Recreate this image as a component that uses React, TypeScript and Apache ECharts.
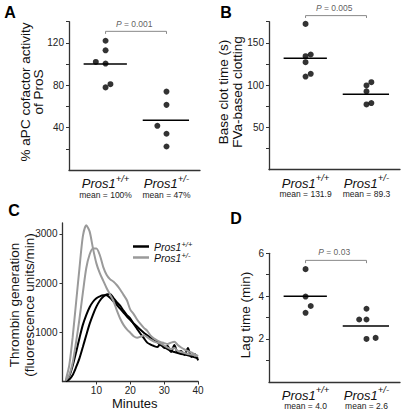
import React, { useEffect, useRef } from "react";
import * as echarts from "echarts";

const FONT = 'Arial, "Liberation Sans", Helvetica, sans-serif';
const GROUP_X = [1, 2];
const GENOTYPES = ["+/+", "+/-"];

// Panel A: % aPC cofactor activity of ProS
const aWtValues = [122, 113, 102, 100.5, 78, 81];
const aWtJitter = [0, 0, -0.16, 0, 0, 0.08];
const aHetValues = [74, 61.5, 41.7, 34.2, 22.2];
const aHetJitter = [0, 0, -0.15, 0, 0];
const aMeans = [100, 47];
const aMeanLabels = ["mean = 100%", "mean = 47%"];
const aPValue = "0.001";
const aYTicks = [20, 40, 60, 80, 100, 120, 140];
const aYLabels = [40, 80, 120];

// Panel B: Base clot time (s)
const bWtValues = [172.4, 136.2, 134.2, 127.1, 113.4, 110.1];
const bWtJitter = [0, 0.085, 0, 0, 0.085, 0];
const bHetValues = [103.5, 99.6, 92.6, 77.2, 78.8];
const bHetJitter = [0.08, 0, 0, 0, 0.08];
const bMeans = [131.9, 89.3];
const bMeanLabels = ["mean = 131.9", "mean = 89.3"];
const bPValue = "0.005";
const bYTicks = [25, 50, 75, 100, 125, 150, 175];
const bYLabels = [50, 100, 150];

// Panel C: thrombin generation curves
const cMinutes = [1, 2, 3, 4, 5, 6, 7, 8, 9, 10, 11, 12, 13, 14, 15, 16, 17, 18, 19, 20, 21, 22, 23, 24, 25, 26, 27, 28, 29, 30, 31, 32, 33, 34, 35, 36, 37, 38, 39, 40];
const cWt1 = [20, 110, 320, 590, 880, 1150, 1350, 1510, 1620, 1690, 1730, 1750, 1750, 1700, 1630, 1560, 1480, 1400, 1320, 1250, 1180, 1120, 1050, 990, 940, 890, 850, 800, 740, 700, 660, 620, 600, 580, 560, 550, 530, 510, 490, 470];
const cWt2 = [5, 40, 130, 290, 470, 700, 940, 1170, 1360, 1520, 1640, 1720, 1770, 1780, 1700, 1610, 1540, 1440, 1350, 1280, 1170, 1070, 970, 880, 790, 750, 720, 700, 780, 680, 720, 600, 740, 590, 620, 540, 680, 500, 560, 430];
const cHet1 = [40, 330, 900, 1600, 2300, 2950, 3175, 3050, 2700, 2400, 2200, 2050, 1900, 1770, 1640, 1450, 1280, 1150, 1060, 990, 920, 890, 910, 940, 900, 850, 810, 790, 770, 730, 690, 660, 680, 620, 600, 580, 560, 550, 530, 510];
const cHet2 = [20, 130, 380, 800, 1270, 1800, 2300, 2580, 2700, 2700, 2570, 2330, 2170, 2080, 2030, 1960, 1870, 1760, 1650, 1460, 1370, 1260, 1170, 1090, 1030, 930, 870, 830, 800, 780, 760, 790, 810, 740, 690, 650, 620, 590, 550, 520];
const cYTicks = [1000, 2000, 3000];
const cXTicks = [10, 20, 30, 40];

// Panel D: Lag time (min)
const dWtValues = [5.26, 3.98, 3.54, 3.22];
const dWtJitter = [0, 0, 0.085, 0];
const dHetValues = [3.41, 2.91, 2.91, 2.0, 2.05];
const dHetJitter = [0, -0.12, 0, 0, 0.15];
const dMeans = [4.0, 2.6];
const dMeanLabels = ["mean = 4.0", "mean = 2.6"];
const dPValue = "0.03";
const dYTicks = [1, 2, 3, 4, 5, 6];
const dYLabels = [2, 4, 6];

const labelRich = {
  p: { fontSize: 13, fontStyle: "italic", fontFamily: FONT, color: "#111", lineHeight: 17, verticalAlign: "bottom" },
  s: { fontSize: 9.5, fontStyle: "italic", fontFamily: FONT, color: "#111", lineHeight: 10, verticalAlign: "top" },
  m: { fontSize: 8.5, fontFamily: FONT, color: "#222", lineHeight: 9 },
};

function catAxis(idx: number, meanLabels: string[]) {
  return {
    gridIndex: idx,
    type: "value",
    min: 0.4,
    max: 2.55,
    axisLine: { show: true, onZero: false, lineStyle: { color: "#333", width: 1.3 } },
    axisTick: { show: false },
    splitLine: { show: false },
    axisLabel: {
      customValues: GROUP_X,
      margin: 3,
      formatter: (v: number) => {
        const g = Math.round(v) - 1;
        return `{p|Pros1}{s|${GENOTYPES[g]}}\n{m|${meanLabels[g]}}`;
      },
      rich: labelRich,
    },
  };
}

function valAxis(idx: number, min: number, max: number, ticks: number[], labels: number[]) {
  return {
    gridIndex: idx,
    type: "value",
    min,
    max,
    axisLine: { show: true, onZero: false, lineStyle: { color: "#333", width: 1.3 } },
    axisTick: { show: true, length: 3, customValues: ticks, lineStyle: { color: "#333" } },
    splitLine: { show: false },
    axisLabel: {
      customValues: labels,
      margin: 5,
      fontSize: 10,
      fontFamily: FONT,
      color: "#222",
      formatter: (v: number) => String(v),
    },
  };
}

function dotPanel(
  idx: number,
  wtV: number[],
  wtJ: number[],
  hetV: number[],
  hetJ: number[],
  means: number[],
  bracketY: number,
  bracketDrop: number,
  pY: number,
  pValue: string
) {
  const common = { xAxisIndex: idx, yAxisIndex: idx, silent: true };
  return [
    { ...common, type: "scatter", data: wtV.map((v, i) => [GROUP_X[0] + wtJ[i], v]), symbolSize: 6, itemStyle: { color: "#000" } },
    { ...common, type: "scatter", data: hetV.map((v, i) => [GROUP_X[1] + hetJ[i], v]), symbolSize: 6, itemStyle: { color: "#000" } },
    { ...common, type: "line", data: [[0.64, means[0]], [1.35, means[0]]], symbol: "none", lineStyle: { color: "#000", width: 1.5 } },
    { ...common, type: "line", data: [[1.61, means[1]], [2.37, means[1]]], symbol: "none", lineStyle: { color: "#000", width: 1.5 } },
    {
      ...common,
      type: "line",
      clip: false,
      data: [[GROUP_X[0], bracketY - bracketDrop], [GROUP_X[0], bracketY], [GROUP_X[1], bracketY], [GROUP_X[1], bracketY - bracketDrop]],
      symbol: "none",
      lineStyle: { color: "#888", width: 1 },
    },
    {
      ...common,
      type: "scatter",
      clip: false,
      data: [[1.47, pY]],
      symbolSize: 1,
      itemStyle: { color: "rgba(0,0,0,0)" },
      label: {
        show: true,
        position: "inside",
        formatter: `{i|P} = ${pValue}`,
        fontSize: 8.5,
        fontFamily: FONT,
        color: "#333",
        rich: { i: { fontSize: 8.5, fontStyle: "italic", fontFamily: FONT, color: "#333" } },
      },
    },
  ];
}

function vTitle(x: number, y: number, text: string) {
  return {
    type: "text",
    x,
    y,
    rotation: Math.PI / 2,
    style: { text, fontSize: 13.5, fontFamily: FONT, fill: "#111", align: "center", verticalAlign: "middle" },
  };
}

function panelLetter(x: number, y: number, text: string) {
  return {
    type: "text",
    x,
    y,
    style: { text, fontSize: 16, fontWeight: 900, fontFamily: FONT, fill: "#000", align: "center", verticalAlign: "middle" },
  };
}

export default function App() {
  const ref = useRef<HTMLDivElement>(null);
  useEffect(() => {
    document.body.style.margin = "0";
    if (!ref.current) return;
    const chart = echarts.init(ref.current, null, { renderer: "svg" });
    const legendRich = {
      p: { fontSize: 10.5, fontStyle: "italic", fontFamily: FONT, color: "#111", lineHeight: 12, verticalAlign: "bottom" },
      s: { fontSize: 7.5, fontStyle: "italic", fontFamily: FONT, color: "#111", lineHeight: 8, verticalAlign: "top" },
    };
    const option: any = {
      animation: false,
      backgroundColor: "#fff",
      grid: [
        { left: 69, top: 21.7, width: 131, height: 148.3 },
        { left: 269, top: 21.7, width: 131, height: 148 },
        { left: 62.5, top: 223, width: 135.6, height: 158.5 },
        { left: 269, top: 253.3, width: 131, height: 128.5 },
      ],
      xAxis: [
        catAxis(0, aMeanLabels),
        catAxis(1, bMeanLabels),
        {
          gridIndex: 2,
          type: "value",
          min: 0,
          max: 40,
          name: "Minutes",
          nameLocation: "middle",
          nameGap: 15,
          nameTextStyle: { fontSize: 13, fontFamily: FONT, color: "#111", padding: [0, 0, 0, 9] },
          axisLine: { show: true, onZero: false, lineStyle: { color: "#333", width: 1.3 } },
          axisTick: { show: true, length: 3, customValues: cXTicks, lineStyle: { color: "#333" } },
          splitLine: { show: false },
          axisLabel: { customValues: cXTicks, margin: 4, fontSize: 10, fontFamily: FONT, color: "#222" },
        },
        catAxis(3, dMeanLabels),
      ],
      yAxis: [
        valAxis(0, 0, 140, aYTicks, aYLabels),
        valAxis(1, 0, 175, bYTicks, bYLabels),
        valAxis(2, 0, 3220, cYTicks, cYTicks),
        valAxis(3, 0, 6, dYTicks, dYLabels),
      ],
      legend: {
        data: ["wt", "het"],
        left: 128,
        top: 235.5,
        orient: "vertical",
        icon: "rect",
        itemWidth: 16,
        itemHeight: 2.5,
        itemGap: -1,
        selectedMode: false,
        formatter: (name: string) => `{p|Pros1}{s|${name === "wt" ? GENOTYPES[0] : GENOTYPES[1]}}`,
        textStyle: { rich: legendRich },
      },
      series: [
        ...dotPanel(0, aWtValues, aWtJitter, aHetValues, aHetJitter, aMeans, 130.9, 2.4, 138.3, aPValue),
        ...dotPanel(1, bWtValues, bWtJitter, bHetValues, bHetJitter, bMeans, 182.2, 2.8, 191.5, bPValue),
        ...dotPanel(3, dWtValues, dWtJitter, dHetValues, dHetJitter, dMeans, 5.67, 0.13, 6.05, dPValue),
        ...[
          { name: "wt", vals: cWt1, color: "#000" },
          { name: "wt", vals: cWt2, color: "#000" },
          { name: "het", vals: cHet1, color: "#9a9a9a" },
          { name: "het", vals: cHet2, color: "#9a9a9a" },
        ].map((s) => ({
          type: "line",
          name: s.name,
          xAxisIndex: 2,
          yAxisIndex: 2,
          data: cMinutes.map((t, i) => [t, s.vals[i]]),
          symbol: "none",
          smooth: 0.25,
          silent: true,
          itemStyle: { color: s.color },
          lineStyle: { color: s.color, width: 2 },
        })),
      ],
      graphic: [
        panelLetter(10, 12, "A"),
        panelLetter(226, 12, "B"),
        panelLetter(14, 210, "C"),
        panelLetter(236, 218, "D"),
        vTitle(25, 92, "% aPC cofactor activity"),
        vTitle(38.5, 92, "of ProS"),
        vTitle(223.5, 92, "Base clot time (s)"),
        vTitle(237, 92, "FVa-based clotting"),
        vTitle(14, 305, "Thrombin generation"),
        vTitle(29, 305, "(fluorescence units/min)"),
        vTitle(245, 315, "Lag time (min)"),
      ],
    };
    chart.setOption(option);
    return () => chart.dispose();
  }, []);
  return <div ref={ref} style={{ width: 407, height: 416 }} />;
}
